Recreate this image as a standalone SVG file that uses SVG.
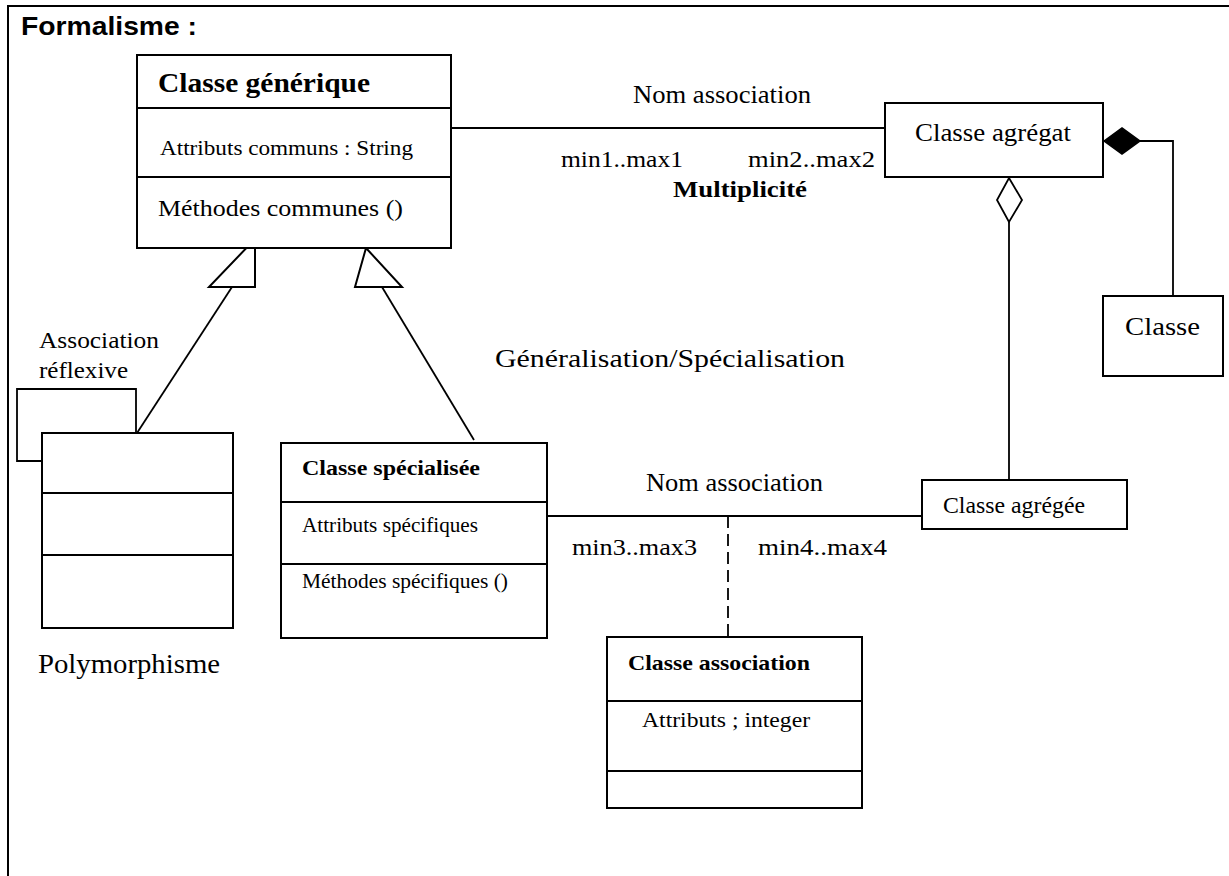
<svg xmlns="http://www.w3.org/2000/svg" width="1229" height="876" viewBox="0 0 1229 876">
  <style>
    .box { fill: #fff; stroke: #000; stroke-width: 2; }
    .sep { stroke: #000; stroke-width: 2; fill: none; }
    .ln { stroke: #000; stroke-width: 1.8; fill: none; }
    .dash { stroke: #000; stroke-width: 1.8; fill: none; stroke-dasharray: 12 6; }
    .t { font-family: "Liberation Serif", "Times New Roman", serif; fill: #000; }
    .b { font-weight: bold; }
    .title { font-family: "Liberation Sans", Arial, sans-serif; font-weight: bold; font-size: 25px; fill: #000; }
  </style>

  <!-- frame -->
  <g id="frame">
    <path class="sep" d="M8,876 V6 H1229"/>
    <text class="title" x="21" y="35" textLength="176" lengthAdjust="spacingAndGlyphs">Formalisme :</text>
  </g>

  <!-- connectors -->
  <g id="connectors">
    <!-- association generic -> aggregate -->
    <line class="ln" x1="451" y1="128" x2="885" y2="128"/>
    <!-- association specialised -> aggregated -->
    <line class="ln" x1="547" y1="516" x2="922" y2="516"/>
    <!-- association class link -->
    <line class="dash" x1="728" y1="516" x2="728" y2="637"/>
    <!-- composition -->
    <polygon points="1104,141 1122,128 1140,141 1122,154" fill="#000" stroke="#000" stroke-width="1.5"/>
    <path class="ln" d="M1140,141 H1173 V296"/>
    <!-- aggregation -->
    <polygon points="1009,178 1022,200 1009,222 997,200" fill="#fff" stroke="#000" stroke-width="1.8"/>
    <line class="ln" x1="1009" y1="222" x2="1009" y2="480"/>
    <!-- generalisation (left) -->
    <polygon points="255,239 255,287 209,287" fill="#fff" stroke="#000" stroke-width="2"/>
    <line class="ln" x1="232" y1="287" x2="137" y2="433"/>
    <!-- generalisation (right) -->
    <polygon points="366,248 402,287 355,287" fill="#fff" stroke="#000" stroke-width="2"/>
    <line class="ln" x1="382" y1="287" x2="474" y2="440"/>
    <!-- reflexive association -->
    <path class="ln" d="M42,461 H17 V389 H136 V433"/>
  </g>

  <!-- labels -->
  <g id="labels">
    <text class="t" x="633" y="103" font-size="25" textLength="178" lengthAdjust="spacingAndGlyphs">Nom association</text>
    <text class="t" x="561" y="167" font-size="23" textLength="122" lengthAdjust="spacingAndGlyphs">min1..max1</text>
    <text class="t" x="748" y="167" font-size="23" textLength="127" lengthAdjust="spacingAndGlyphs">min2..max2</text>
    <text class="t b" x="673" y="197" font-size="23" textLength="134" lengthAdjust="spacingAndGlyphs">Multiplicité</text>
    <text class="t" x="495" y="367" font-size="25" textLength="350" lengthAdjust="spacingAndGlyphs">Généralisation/Spécialisation</text>
    <text class="t" x="646" y="491" font-size="25" textLength="177" lengthAdjust="spacingAndGlyphs">Nom association</text>
    <text class="t" x="572" y="555" font-size="23" textLength="125" lengthAdjust="spacingAndGlyphs">min3..max3</text>
    <text class="t" x="758" y="555" font-size="23" textLength="129" lengthAdjust="spacingAndGlyphs">min4..max4</text>
    <text class="t" x="39" y="348" font-size="24" textLength="120" lengthAdjust="spacingAndGlyphs">Association</text>
    <text class="t" x="39" y="378" font-size="24" textLength="89" lengthAdjust="spacingAndGlyphs">réflexive</text>
    <text class="t" x="38" y="673" font-size="27" textLength="182" lengthAdjust="spacingAndGlyphs">Polymorphisme</text>
  </g>

  <g id="classe-generique">
    <rect class="box" x="137" y="55" width="314" height="193"/>
    <line class="sep" x1="137" y1="108" x2="451" y2="108"/>
    <line class="sep" x1="137" y1="177" x2="451" y2="177"/>
    <text class="t b" x="158" y="92" font-size="27" textLength="212" lengthAdjust="spacingAndGlyphs">Classe générique</text>
    <text class="t" x="160" y="155" font-size="22" textLength="253" lengthAdjust="spacingAndGlyphs">Attributs communs : String</text>
    <text class="t" x="158" y="216" font-size="23" textLength="245" lengthAdjust="spacingAndGlyphs">Méthodes communes ()</text>
  </g>

  <g id="classe-agregat">
    <rect class="box" x="885" y="103" width="218" height="74"/>
    <text class="t" x="915" y="141" font-size="25" textLength="156" lengthAdjust="spacingAndGlyphs">Classe agrégat</text>
  </g>

  <g id="classe">
    <rect class="box" x="1103" y="296" width="120" height="80"/>
    <text class="t" x="1125" y="335" font-size="25" textLength="75" lengthAdjust="spacingAndGlyphs">Classe</text>
  </g>

  <g id="classe-agregee">
    <rect class="box" x="922" y="480" width="205" height="49"/>
    <text class="t" x="943" y="513" font-size="24" textLength="142" lengthAdjust="spacingAndGlyphs">Classe agrégée</text>
  </g>

  <g id="polymorphe">
    <rect class="box" x="42" y="433" width="191" height="195"/>
    <line class="sep" x1="42" y1="493" x2="233" y2="493"/>
    <line class="sep" x1="42" y1="555" x2="233" y2="555"/>
  </g>

  <g id="classe-specialisee">
    <rect class="box" x="281" y="443" width="266" height="195"/>
    <line class="sep" x1="281" y1="502" x2="547" y2="502"/>
    <line class="sep" x1="281" y1="564" x2="547" y2="564"/>
    <text class="t b" x="302" y="475" font-size="21" textLength="178" lengthAdjust="spacingAndGlyphs">Classe spécialisée</text>
    <text class="t" x="302" y="532" font-size="20" textLength="176" lengthAdjust="spacingAndGlyphs">Attributs spécifiques</text>
    <text class="t" x="302" y="588" font-size="20" textLength="206" lengthAdjust="spacingAndGlyphs">Méthodes spécifiques ()</text>
  </g>

  <g id="classe-association">
    <rect class="box" x="607" y="637" width="255" height="171"/>
    <line class="sep" x1="607" y1="701" x2="862" y2="701"/>
    <line class="sep" x1="607" y1="771" x2="862" y2="771"/>
    <text class="t b" x="628" y="670" font-size="21" textLength="182" lengthAdjust="spacingAndGlyphs">Classe association</text>
    <text class="t" x="642" y="727" font-size="21" textLength="168" lengthAdjust="spacingAndGlyphs">Attributs ; integer</text>
  </g>
</svg>
